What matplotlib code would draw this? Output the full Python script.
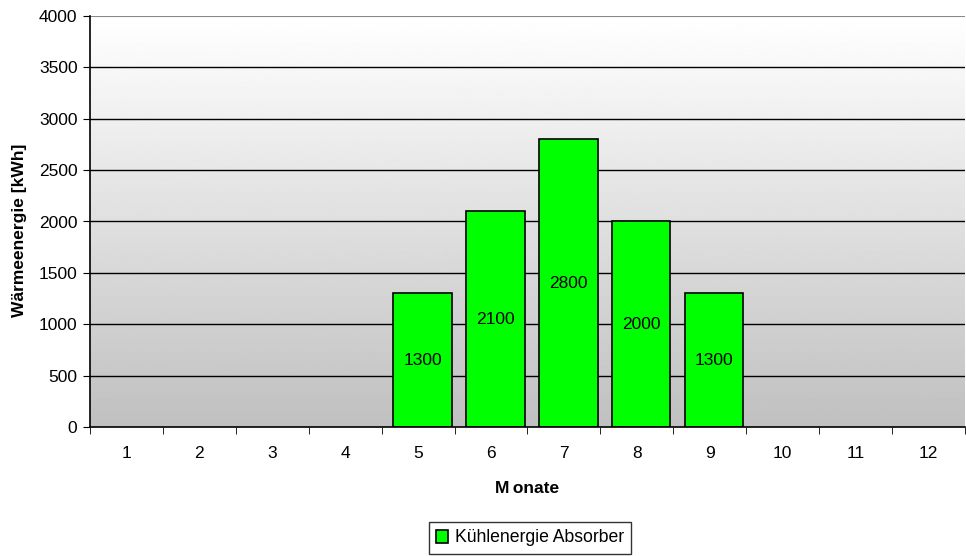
import matplotlib.pyplot as plt
import numpy as np

plt.rcParams['font.family'] = ['Liberation Sans', 'DejaVu Sans']

# Monthly cooling energy from the absorber
months = [1, 2, 3, 4, 5, 6, 7, 8, 9, 10, 11, 12]
cooling = [0, 0, 0, 0, 1300, 2100, 2800, 2000, 1300, 0, 0, 0]
y_ticks = [0, 500, 1000, 1500, 2000, 2500, 3000, 3500, 4000]

fig = plt.figure(figsize=(9.66, 5.56), dpi=100)
ax = fig.add_axes([90 / 966, 1 - 427 / 556, 875 / 966, 411 / 556])

# vertical grey gradient behind the bars
grad = np.linspace(1.0, 0.753, 256).reshape(-1, 1)
ax.imshow(grad, cmap='gray', vmin=0, vmax=1, aspect='auto',
          extent=[0.5, 12.5, 0, 4000], zorder=0)

for v in y_ticks[1:-1]:
    ax.axhline(v, color='black', lw=1, zorder=1)
ax.axhline(4000, color='#888888', lw=1.5, zorder=1)

x = np.array(months)
vals = np.array(cooling)
mask = vals > 0
# bars sit slightly right of the category centre
xb = x[mask] + 0.06
bars = ax.bar(xb, vals[mask], width=0.8, color='#00ff00', edgecolor='black',
              lw=1.2, zorder=2, label='Kühlenergie Absorber')
for xi, v in zip(xb, vals[mask]):
    ax.text(xi, v / 2, f'{v}', ha='center', va='center', fontsize=12.5, zorder=3)

ax.set_xlim(0.5, 12.5)
ax.set_ylim(0, 4000)
ax.set_yticks(y_ticks)
ax.set_xticks(months)
ax.set_xticks(np.arange(0.5, 13, 1), minor=True)
ax.tick_params(axis='x', which='major', length=0, pad=14, labelsize=12.5)
ax.tick_params(axis='x', which='minor', length=5, direction='out', color='black')
ax.tick_params(axis='y', length=5, direction='out', pad=4, labelsize=12.5)

for s in ['top', 'right']:
    ax.spines[s].set_visible(False)
ax.spines['left'].set_linewidth(1.2)
ax.spines['bottom'].set_linewidth(1.2)

ax.set_xlabel('M\u2009onate', fontsize=12.5, fontweight='bold', labelpad=14)
fig.text(20 / 966, 1 - 230 / 556, 'Wärmeenergie [kWh]', rotation=90, fontsize=12.5,
         fontweight='bold', ha='center', va='center')

leg = fig.legend(handles=[bars], loc='center', bbox_to_anchor=(530 / 966, 1 - 538 / 556),
                 fontsize=12.7, frameon=True, fancybox=False, edgecolor='black',
                 handlelength=0.7, handleheight=0.7, handletextpad=0.4,
                 borderpad=0.4)
leg.get_frame().set_linewidth(1)

fig.savefig('out.png', dpi=100)
